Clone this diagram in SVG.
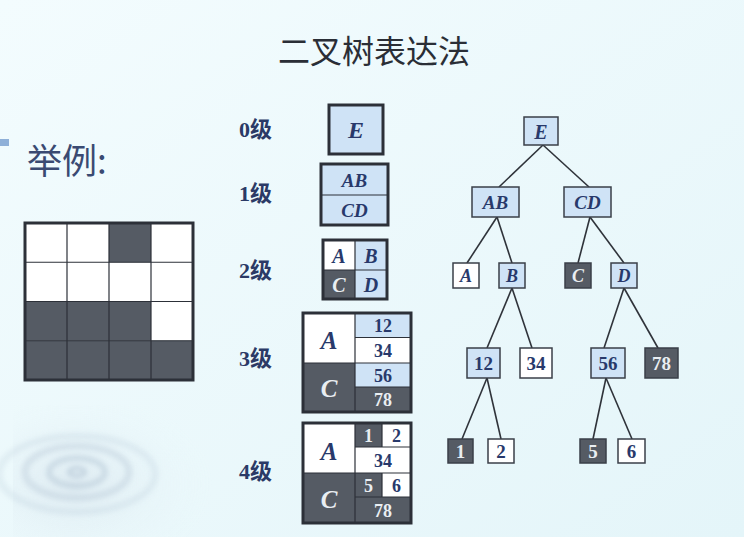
<svg xmlns="http://www.w3.org/2000/svg" width="744" height="537" viewBox="0 0 744 537">
<defs>
  <linearGradient id="bg" x1="0" y1="0" x2="1" y2="1">
    <stop offset="0" stop-color="#f3fcfe"/>
    <stop offset="1" stop-color="#e4f5f9"/>
  </linearGradient>
  <radialGradient id="swirlbg" cx="0.3" cy="0.6" r="0.7">
    <stop offset="0" stop-color="#c9d6e2" stop-opacity="0.6"/>
    <stop offset="1" stop-color="#e9f6fa" stop-opacity="0"/>
  </radialGradient>
  <filter id="blur" x="-20%" y="-20%" width="140%" height="140%">
    <feGaussianBlur stdDeviation="2.5"/>
  </filter>
  <style>
    .lvl{font-family:"Liberation Serif","Noto Sans CJK SC",serif;font-weight:bold;font-size:22px;fill:#2b3a66}
    .it{font-family:"Liberation Serif",serif;font-weight:bold;font-style:italic;text-anchor:middle;dominant-baseline:central}
    .num{font-family:"Liberation Serif",serif;font-weight:bold;text-anchor:middle;dominant-baseline:central}
    .dk{fill:#e9eef2}
    .lt{fill:#28396b}
    .cl{fill:#cfe3f6}
    .cw{fill:#ffffff}
    .cd{fill:#555b64}
    .inner{stroke:#2c3038;stroke-width:1.2;fill:none}
    .outer{stroke:#2c3038;stroke-width:3;fill:none}
    .tn{stroke:#3a3f48;stroke-width:1.5}
    .edge{stroke:#2f333a;stroke-width:1.6;fill:none}
  </style>
</defs>

<rect x="0" y="0" width="744" height="537" fill="url(#bg)"/>

<!-- decorative ripple -->
<g id="ripple" opacity="0.65">
  <rect x="13" y="405" width="200" height="132" fill="url(#swirlbg)"/>
  <g filter="url(#blur)" fill="none" stroke="#8ea4bb">
    <ellipse cx="77" cy="472" rx="8" ry="4" stroke-width="4" stroke-opacity="0.6"/>
    <ellipse cx="77" cy="472" rx="28" ry="14" stroke-width="6" stroke-opacity="0.45"/>
    <ellipse cx="77" cy="472" rx="52" ry="26" stroke-width="7" stroke-opacity="0.35"/>
    <ellipse cx="77" cy="474" rx="78" ry="38" stroke-width="7" stroke-opacity="0.22"/>
  </g>
</g>

<!-- title -->
<text id="title" x="374" y="63" text-anchor="middle" font-family="Noto Sans CJK SC, sans-serif" font-size="32" fill="#2a2e36">二叉树表达法</text>

<!-- example -->
<rect x="0" y="139" width="9" height="7" fill="#8fb0d8"/>
<text id="example-label" x="27" y="174" font-family="Noto Sans CJK SC, sans-serif" font-size="35" fill="#3a4a72">举例:</text>

<g id="grid">
  <rect x="25" y="223" width="168" height="157" fill="#ffffff"/>
  <rect x="109" y="223" width="42" height="39.25" fill="#555b64"/>
  <rect x="25" y="301.5" width="126" height="39.25" fill="#555b64"/>
  <rect x="25" y="340.75" width="168" height="39.25" fill="#555b64"/>
  <g class="inner">
    <line x1="67" y1="223" x2="67" y2="380"/>
    <line x1="109" y1="223" x2="109" y2="380"/>
    <line x1="151" y1="223" x2="151" y2="380"/>
    <line x1="25" y1="262.25" x2="193" y2="262.25"/>
    <line x1="25" y1="301.5" x2="193" y2="301.5"/>
    <line x1="25" y1="340.75" x2="193" y2="340.75"/>
  </g>
  <rect x="25" y="223" width="168" height="157" class="outer"/>
</g>

<!-- level labels -->
<g id="level-labels">
  <text class="lvl" x="239" y="137">0级</text>
  <text class="lvl" x="239" y="201">1级</text>
  <text class="lvl" x="239" y="278">2级</text>
  <text class="lvl" x="239" y="366">3级</text>
  <text class="lvl" x="239" y="479">4级</text>
</g>

<!-- level 0 -->
<g id="level0">
  <rect x="329" y="105" width="54" height="49" class="cl"/>
  <rect x="329" y="105" width="54" height="49" class="outer"/>
  <text class="it lt" x="356" y="130" font-size="24">E</text>
</g>

<!-- level 1 -->
<g id="level1">
  <rect x="321" y="164" width="67" height="61" class="cl"/>
  <line x1="321" y1="195" x2="388" y2="195" class="inner"/>
  <rect x="321" y="164" width="67" height="61" class="outer"/>
  <text class="it lt" x="354.5" y="180" font-size="19">AB</text>
  <text class="it lt" x="354.5" y="210.5" font-size="19">CD</text>
</g>

<!-- level 2 -->
<g id="level2">
  <rect x="323" y="240" width="32" height="30" class="cw"/>
  <rect x="355" y="240" width="32" height="30" class="cl"/>
  <rect x="323" y="270" width="32" height="29" class="cd"/>
  <rect x="355" y="270" width="32" height="29" class="cl"/>
  <g class="inner">
    <line x1="355" y1="240" x2="355" y2="299"/>
    <line x1="323" y1="270" x2="387" y2="270"/>
  </g>
  <rect x="323" y="240" width="64" height="59" class="outer"/>
  <text class="it lt" x="339" y="256" font-size="20">A</text>
  <text class="it lt" x="371" y="256" font-size="20">B</text>
  <text class="it dk" x="339" y="285" font-size="20">C</text>
  <text class="it lt" x="371" y="285" font-size="20">D</text>
</g>

<!-- level 3 -->
<g id="level3">
  <rect x="303" y="313" width="52" height="50" class="cw"/>
  <rect x="303" y="363" width="52" height="49" class="cd"/>
  <rect x="355" y="313" width="56" height="24.5" class="cl"/>
  <rect x="355" y="337.5" width="56" height="25.5" class="cw"/>
  <rect x="355" y="363" width="56" height="24" class="cl"/>
  <rect x="355" y="387" width="56" height="25" class="cd"/>
  <g class="inner">
    <line x1="355" y1="313" x2="355" y2="412"/>
    <line x1="303" y1="363" x2="411" y2="363"/>
    <line x1="355" y1="337.5" x2="411" y2="337.5"/>
    <line x1="355" y1="387" x2="411" y2="387"/>
  </g>
  <rect x="303" y="313" width="108" height="99" class="outer"/>
  <text class="it lt" x="329" y="340" font-size="25">A</text>
  <text class="it dk" x="329" y="388" font-size="25">C</text>
  <text class="num lt" x="383" y="326" font-size="18">12</text>
  <text class="num lt" x="383" y="351" font-size="18">34</text>
  <text class="num lt" x="383" y="376" font-size="18">56</text>
  <text class="num dk" x="383" y="400" font-size="18">78</text>
</g>

<!-- level 4 -->
<g id="level4">
  <rect x="303" y="423" width="52" height="50" class="cw"/>
  <rect x="303" y="473" width="52" height="50" class="cd"/>
  <rect x="355" y="423" width="27" height="24" class="cd"/>
  <rect x="382" y="423" width="29" height="24" class="cw"/>
  <rect x="355" y="447" width="56" height="26" class="cw"/>
  <rect x="355" y="473" width="27" height="24" class="cd"/>
  <rect x="382" y="473" width="29" height="24" class="cw"/>
  <rect x="355" y="497" width="56" height="26" class="cd"/>
  <g class="inner">
    <line x1="355" y1="423" x2="355" y2="523"/>
    <line x1="303" y1="473" x2="411" y2="473"/>
    <line x1="355" y1="447" x2="411" y2="447"/>
    <line x1="355" y1="497" x2="411" y2="497"/>
    <line x1="382" y1="423" x2="382" y2="447"/>
    <line x1="382" y1="473" x2="382" y2="497"/>
  </g>
  <rect x="303" y="423" width="108" height="100" class="outer"/>
  <text class="it lt" x="329" y="451" font-size="25">A</text>
  <text class="it dk" x="329" y="499" font-size="25">C</text>
  <text class="num dk" x="368.5" y="436" font-size="18">1</text>
  <text class="num lt" x="396.5" y="436" font-size="18">2</text>
  <text class="num lt" x="383" y="461" font-size="18">34</text>
  <text class="num dk" x="368.5" y="486" font-size="18">5</text>
  <text class="num lt" x="396.5" y="486" font-size="18">6</text>
  <text class="num dk" x="383" y="511" font-size="18">78</text>
</g>

<!-- tree connectors -->
<g id="connectors" class="edge">
  <line x1="543" y1="145" x2="499" y2="187"/>
  <line x1="543" y1="145" x2="589" y2="187"/>
  <line x1="497" y1="217" x2="467" y2="263"/>
  <line x1="497" y1="217" x2="512" y2="263"/>
  <line x1="590" y1="217" x2="578" y2="263"/>
  <line x1="590" y1="217" x2="624" y2="263"/>
  <line x1="512" y1="288" x2="487" y2="348"/>
  <line x1="512" y1="288" x2="532" y2="348"/>
  <line x1="624" y1="288" x2="604" y2="348"/>
  <line x1="624" y1="288" x2="658" y2="348"/>
  <line x1="487" y1="378" x2="462" y2="439"/>
  <line x1="487" y1="378" x2="501" y2="439"/>
  <line x1="606" y1="378" x2="593" y2="439"/>
  <line x1="606" y1="378" x2="632" y2="439"/>
</g>

<!-- tree nodes -->
<g id="t-E"><rect x="524" y="117" width="34" height="28" class="tn cl"/><text class="it lt" x="541" y="131.5" font-size="20">E</text></g>
<g id="t-AB"><rect x="472" y="187" width="47" height="30" class="tn cl"/><text class="it lt" x="495.5" y="202.5" font-size="19">AB</text></g>
<g id="t-CD"><rect x="564" y="187" width="47" height="30" class="tn cl"/><text class="it lt" x="587.5" y="202.5" font-size="19">CD</text></g>
<g id="t-A"><rect x="453" y="263" width="26" height="25" class="tn cw"/><text class="it lt" x="466" y="276" font-size="18">A</text></g>
<g id="t-B"><rect x="499" y="263" width="26" height="25" class="tn cl"/><text class="it lt" x="512" y="276" font-size="18">B</text></g>
<g id="t-C"><rect x="565" y="263" width="26" height="25" class="tn cd"/><text class="it dk" x="578" y="276" font-size="18">C</text></g>
<g id="t-D"><rect x="611" y="263" width="26" height="25" class="tn cl"/><text class="it lt" x="624" y="276" font-size="18">D</text></g>
<g id="t-12"><rect x="467" y="348" width="33" height="30" class="tn cl"/><text class="num lt" x="483.5" y="363.5" font-size="19">12</text></g>
<g id="t-34"><rect x="520" y="348" width="32" height="30" class="tn cw"/><text class="num lt" x="536" y="363.5" font-size="19">34</text></g>
<g id="t-56"><rect x="591" y="348" width="34" height="30" class="tn cl"/><text class="num lt" x="608" y="363.5" font-size="19">56</text></g>
<g id="t-78"><rect x="645" y="348" width="33" height="30" class="tn cd"/><text class="num dk" x="661.5" y="363.5" font-size="19">78</text></g>
<g id="t-1"><rect x="448" y="439" width="25" height="24" class="tn cd"/><text class="num dk" x="460.5" y="451.5" font-size="19">1</text></g>
<g id="t-2"><rect x="488" y="439" width="26" height="24" class="tn cw"/><text class="num lt" x="501" y="451.5" font-size="19">2</text></g>
<g id="t-5"><rect x="580" y="439" width="26" height="24" class="tn cd"/><text class="num dk" x="593" y="451.5" font-size="19">5</text></g>
<g id="t-6"><rect x="618" y="439" width="27" height="24" class="tn cw"/><text class="num lt" x="631.5" y="451.5" font-size="19">6</text></g>
</svg>
